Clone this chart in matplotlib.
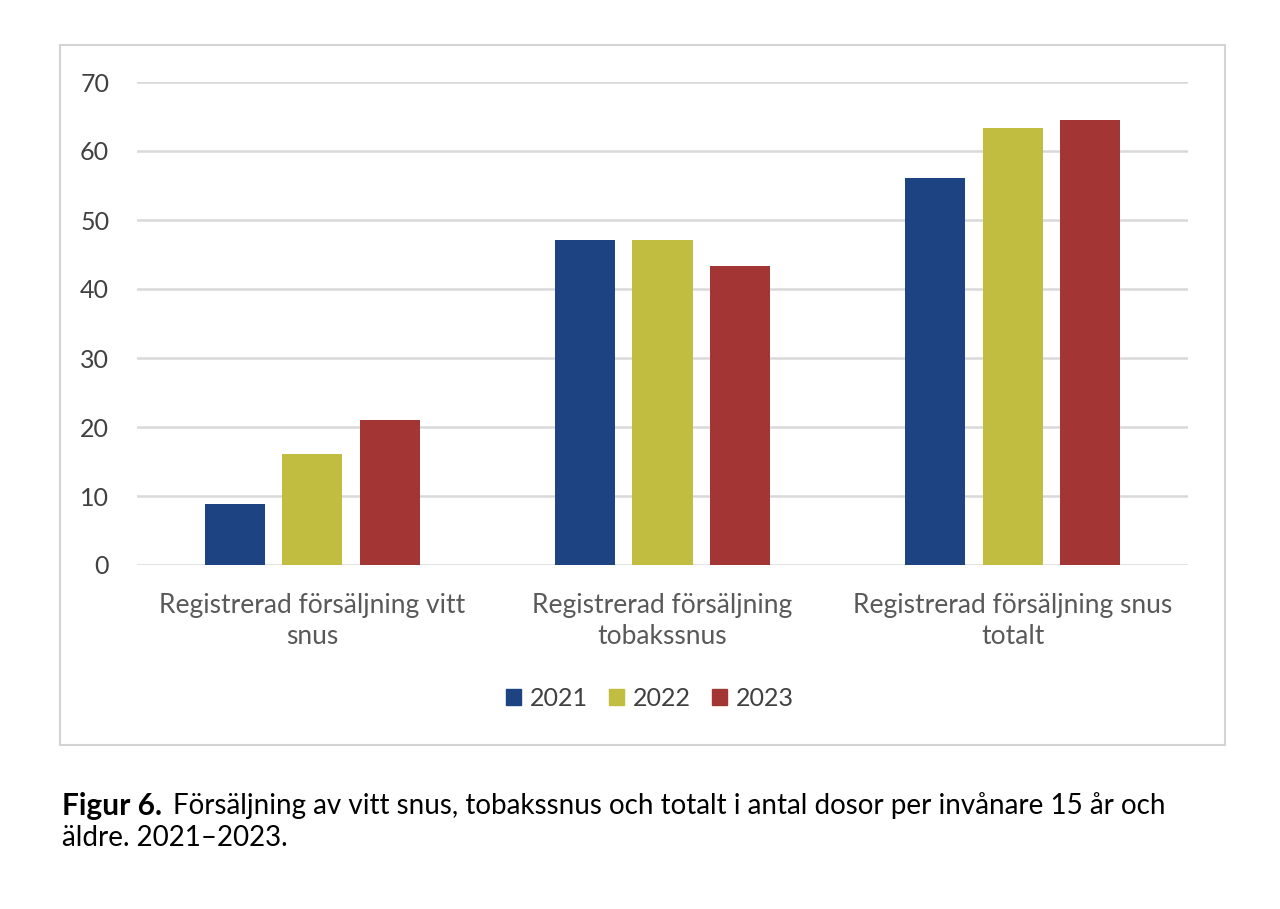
import numpy as np
import matplotlib
matplotlib.use("Agg")
import matplotlib.pyplot as plt
from matplotlib.patches import Rectangle, Patch

plt.rcParams['font.family'] = ['Lato', 'DejaVu Sans']

# data
categories = ["Registrerad försäljning vitt\nsnus",
              "Registrerad försäljning\ntobakssnus",
              "Registrerad försäljning snus\ntotalt"]
years = ["2021", "2022", "2023"]
v2021 = [8.9, 47.1, 56.1]
v2022 = [16.1, 47.1, 63.3]
v2023 = [21.0, 43.3, 64.5]
colors = ["#1d4382", "#c0bd40", "#a33535"]

fig = plt.figure(figsize=(12.8, 9.09), dpi=100)

# chart frame
fig.patches.append(Rectangle((60 / 1280, 1 - 745 / 909), 1165 / 1280, 700 / 909,
                             transform=fig.transFigure, fill=False,
                             edgecolor="#d4d4d4", linewidth=1.5))

ax = fig.add_axes([137 / 1280, 1 - 565 / 909, 1051 / 1280, 483 / 909])
x = np.arange(len(categories))
w = 60 / 350
step = 77.5 / 350
for i, (vals, yr) in enumerate(zip([v2021, v2022, v2023], years)):
    ax.bar(x + (i - 1) * step, vals, width=w, color=colors[i], label=yr, zorder=3)

ax.set_xlim(-0.5, 2.5)
ax.set_ylim(0, 70)
ax.set_yticks(range(0, 71, 10))
ax.yaxis.grid(True, color="#d9d9d9", linewidth=1.8, zorder=0)
for s in ax.spines.values():
    s.set_visible(False)
ax.tick_params(axis="y", length=0, pad=20, labelsize=18, labelcolor="#404040")
ax.set_xticks(x)
ax.set_xticklabels(categories, fontsize=19, color="#595959", linespacing=1.3)
ax.tick_params(axis="x", length=0, pad=20)

handles = [Patch(color=c, label=y) for c, y in zip(colors, years)]
fig.legend(handles=handles, loc="center", bbox_to_anchor=(650 / 1280, 1 - 698 / 909),
           ncol=3, frameon=False, fontsize=18, handlelength=0.6, handleheight=0.6,
           handletextpad=0.35, columnspacing=0.85, labelcolor="#404040")

fig.text(62 / 1280, 1 - 806 / 909, "Figur 6.", fontsize=21.5, fontweight="bold",
         va="center", color="black")
fig.text(173 / 1280, 1 - 806 / 909,
         "Försäljning av vitt snus, tobakssnus och totalt i antal dosor per invånare 15 år och",
         fontsize=20, va="center", color="black")
fig.text(62 / 1280, 1 - 838 / 909, "äldre. 2021–2023.", fontsize=20, va="center",
         color="black")

fig.savefig("out.png", dpi=100, facecolor="white")
